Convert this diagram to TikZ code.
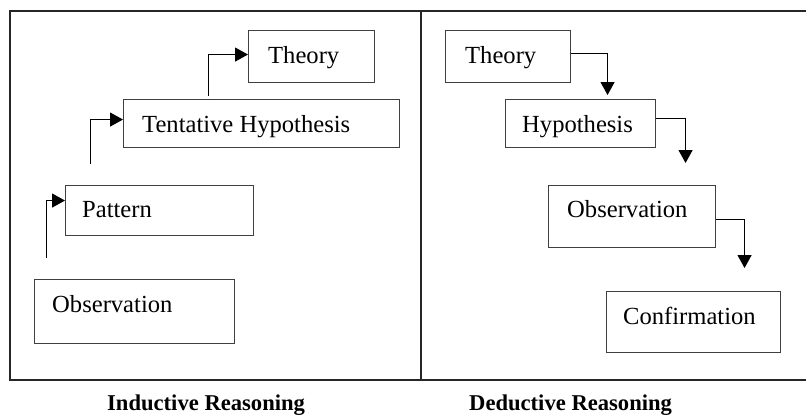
\documentclass[tikz,border=0pt]{standalone}
\usepackage{fontspec}
\setmainfont{Liberation Serif}
\usetikzlibrary{arrows.meta}
\begin{document}
\begin{tikzpicture}[x=1pt,y=-1pt,
  frame/.style={line width=1.4pt, black!85},
  box/.style={draw=black!75, line width=1.1pt, rectangle, inner sep=0pt, anchor=north west},
  txt/.style={inner sep=0pt, anchor=base west, font=\fontsize{24.6}{28}\selectfont},
  captxt/.style={inner sep=0pt, anchor=base west, font=\fontsize{22.6}{26}\selectfont\bfseries},
  arr/.style={line width=1.4pt, -{Triangle[width=14pt,length=13pt]}}]
\useasboundingbox (0,0) rectangle (806,415);
% frame
\draw[frame] (806,11) -- (10,11) -- (10,380) -- (806,380);
\draw[frame] (421,11) -- (421,380);
% inductive boxes
\node[box, minimum width=126pt, minimum height=52pt] (lt) at (248,30) {};
\node[box, minimum width=276pt, minimum height=48pt] (lh) at (123,99) {};
\node[box, minimum width=188pt, minimum height=50pt] (lp) at (65,185) {};
\node[box, minimum width=200pt, minimum height=64pt] (lo) at (34,279) {};
\node[txt] (ltt) at (268,63) {Theory};
\node[txt] (lht) at (142,132) {Tentative Hypothesis};
\node[txt] (lpt) at (82,217) {Pattern};
\node[txt] (lot) at (52,312) {Observation};
% deductive boxes
\node[box, minimum width=125pt, minimum height=52pt] (rt) at (445,30) {};
\node[box, minimum width=150pt, minimum height=48pt] (rh) at (505,99) {};
\node[box, minimum width=167pt, minimum height=62pt] (ro) at (548,185) {};
\node[box, minimum width=174pt, minimum height=61pt] (rc) at (606,291) {};
\node[txt] (rtt) at (465,63) {Theory};
\node[txt] (rht) at (522,132) {Hypothesis};
\node[txt] (rot) at (567,217) {Observation};
\node[txt] (rct) at (623,324) {Confirmation};
% inductive arrows
\draw[arr, shorten <=21pt] ([xshift=-88pt]lo.north) |- ([yshift=10pt]lp.west);
\draw[arr, shorten <=21pt] ([xshift=-69pt]lp.north) |- ([yshift=4pt]lh.west);
\draw[arr, shorten <=3pt] ([xshift=-53pt]lh.north) |- ([yshift=2pt]lt.west);
% deductive arrows
\draw[arr, shorten >=4pt] ([yshift=3pt]rt.east) -| ([xshift=27pt]rh.north);
\draw[arr, shorten >=22pt] ([yshift=5pt]rh.east) -| ([xshift=53.5pt]ro.north);
\draw[arr, shorten >=23pt] ([yshift=-3pt]ro.east) -| ([xshift=51pt]rc.north);
% captions
\node[captxt] (ci) at (107,410) {Inductive Reasoning};
\node[captxt] (cd) at (469,410) {Deductive Reasoning};
\end{tikzpicture}
\end{document}
